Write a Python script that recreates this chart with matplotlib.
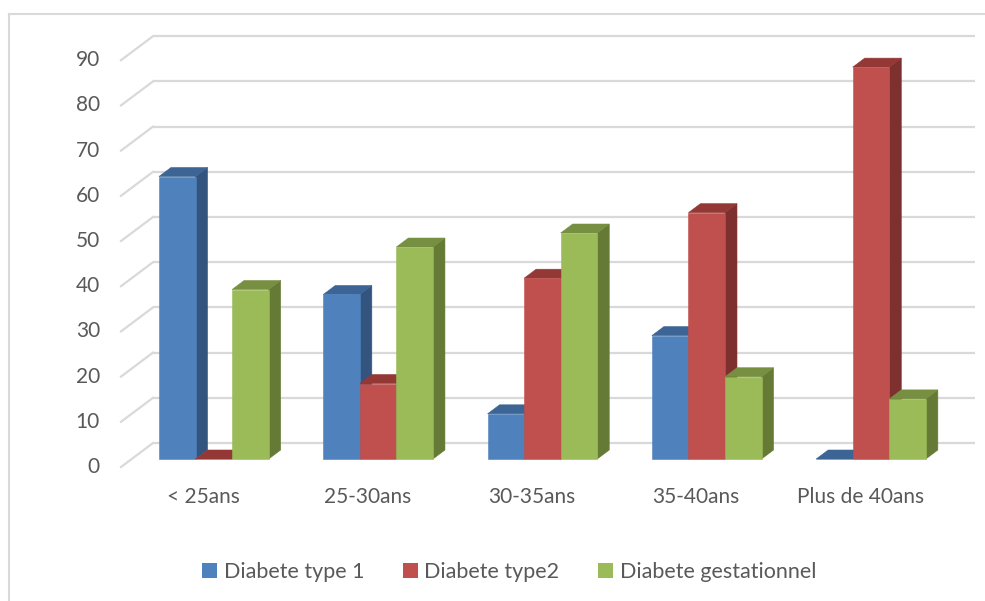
import matplotlib
matplotlib.use("Agg")
import matplotlib.pyplot as plt
from matplotlib.patches import Polygon, Patch
from matplotlib.lines import Line2D
import numpy as np

plt.rcParams['font.family'] = ['Lato', 'DejaVu Sans']

# ---- data -------------------------------------------------------------
categories = ["< 25ans", "25-30ans", "30-35ans", "35-40ans", "Plus de 40ans"]
series_names = ["Diabete type 1", "Diabete type2", "Diabete gestationnel"]
type1 = [62.5, 36.4, 10.0, 27.3, 0.0]
type2 = [0.0, 16.7, 40.0, 54.5, 86.7]
gestational = [37.5, 46.9, 50.0, 18.2, 13.3]
y_ticks = [0, 10, 20, 30, 40, 50, 60, 70, 80, 90]

series_values = [type1, type2, gestational]
front_colors = ["#4F81BD", "#C0504D", "#9BBB59"]
side_colors = ["#32547F", "#7E302E", "#657A35"]
top_colors = ["#3C6494", "#943836", "#778F40"]
text_color = "#595959"
grid_color = "#D9D9D9"

# ---- figure / pseudo-3D projection -------------------------------------
W, H = 985, 601
fig = plt.figure(figsize=(W / 100, H / 100), dpi=100)
ax = fig.add_axes([0, 0, 1, 1])
ax.set_axis_off()

px_per_cat = 164.3      # width of one category slot on screen
px_per_unit = 4.52      # vertical pixels per value unit
wall_left, wall_floor = 153.0, 443.0
ax.set_xlim(-wall_left / px_per_cat, (W - wall_left) / px_per_cat)
ax.set_ylim((wall_floor - H) / px_per_unit, wall_floor / px_per_unit)

# oblique depth direction (z = 0 back wall, z = 1 front edge)
DX = -32.0 / px_per_cat
DY = -24.0 / px_per_unit
n_cat = len(categories)


def proj(x, v, z):
    return (x + z * DX, v + z * DY)


# back-wall gridlines and side-wall diagonals
for v in y_ticks:
    xs, ys = zip(proj(0, v, 0), proj(n_cat, v, 0))
    ax.add_line(Line2D(xs, ys, color=grid_color, lw=1.6, zorder=1,
                       solid_capstyle="butt"))
    xs, ys = zip(proj(0, v, 0), proj(0, v, 1))
    ax.add_line(Line2D(xs, ys, color=grid_color, lw=1.6, zorder=1))
    tx, ty = proj(0, v, 1)
    ax.text(tx - 21 / px_per_cat, ty, str(v), ha="right", va="center",
            fontsize=15, color=text_color)

# bars
bar_w = 0.2225
gap = (1 - 3 * bar_w) / 2
z_back, z_front = 0.292, 0.667
order = 10
for i in range(n_cat):
    for j, vals in enumerate(series_values):
        v = vals[i]
        x0 = i + gap + j * bar_w
        x1 = x0 + bar_w
        front = [proj(x0, 0, z_front), proj(x1, 0, z_front),
                 proj(x1, v, z_front), proj(x0, v, z_front)]
        side = [proj(x1, 0, z_front), proj(x1, 0, z_back),
                proj(x1, v, z_back), proj(x1, v, z_front)]
        top = [proj(x0, v, z_front), proj(x1, v, z_front),
               proj(x1, v, z_back), proj(x0, v, z_back)]
        for poly, col in ((side, side_colors[j]), (top, top_colors[j]),
                          (front, front_colors[j])):
            ax.add_patch(Polygon(poly, closed=True, facecolor=col,
                                 edgecolor=col, lw=0.4, zorder=order))
        order += 1

# category labels along the front edge
for i, name in enumerate(categories):
    cx, cy = proj(i + 0.5, 0, 1)
    ax.text(cx, cy - 30 / px_per_unit, name, ha="center", va="center",
            fontsize=15, color=text_color)

# legend
handles = [Patch(facecolor=c, edgecolor="none") for c in front_colors]
fig.legend(handles, series_names, loc="center", ncol=3,
           bbox_to_anchor=(509 / W, 1 - 572 / H), frameon=False,
           fontsize=15.5, labelcolor=text_color, handlelength=0.7,
           handleheight=0.7, handletextpad=0.3, columnspacing=1.8)

# outer chart border (top and left edges)
fig.add_artist(Line2D([9 / W, 1.0], [1 - 14 / H, 1 - 14 / H],
                      transform=fig.transFigure, color=grid_color, lw=1.5))
fig.add_artist(Line2D([9 / W, 9 / W], [0.0, 1 - 14 / H],
                      transform=fig.transFigure, color=grid_color, lw=1.5))

fig.savefig("out.png", dpi=100, facecolor="white")
